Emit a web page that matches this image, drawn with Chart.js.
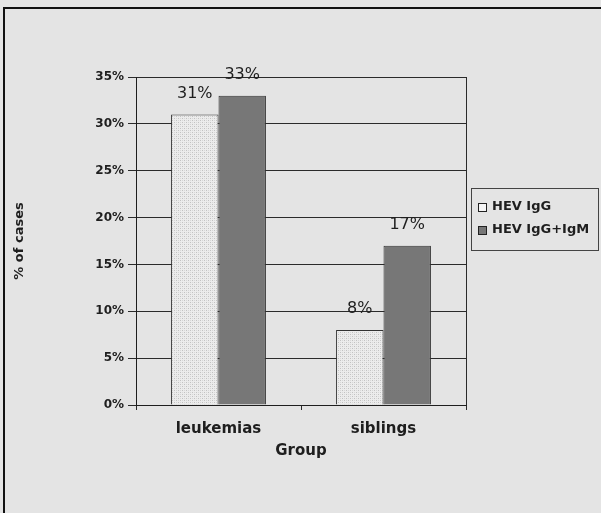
<!DOCTYPE html>
<html>
<head>
<meta charset="utf-8">
<script src="https://cdn.jsdelivr.net/npm/chart.js@4.4.1/dist/chart.umd.min.js"></script>
<style>
  html, body { margin: 0; padding: 0; background: #e4e4e4; }
  #wrap { width: 601px; height: 513px; position: relative; }
</style>
</head>
<body>
<div id="wrap"><canvas id="c" width="601" height="513"></canvas></div>
<script>
// Data
const groups = ['leukemias', 'siblings'];
const seriesNames = ['HEV IgG', 'HEV IgG+IgM'];
const igG = [31, 8];
const igGIgM = [33, 17];
const yTicks = [0, 5, 10, 15, 20, 25, 30, 35];
const yTitle = '% of cases';
const xTitle = 'Group';

const FONT = 'DejaVu Sans';
const INK = '#1e1e1e';

// Light dotted fill for the IgG bars
function makeDotPattern() {
  const t = document.createElement('canvas');
  t.width = 4; t.height = 4;
  const g = t.getContext('2d');
  g.fillStyle = '#ececec';
  g.fillRect(0, 0, 4, 4);
  g.fillStyle = '#c2c2c2';
  g.fillRect(0, 0, 1, 1);
  g.fillRect(2, 2, 1, 1);
  g.fillStyle = '#d8d8d8';
  g.fillRect(2, 0, 1, 1);
  g.fillRect(0, 2, 1, 1);
  return g.createPattern(t, 'repeat');
}
const dotFill = makeDotPattern();
const darkFill = '#777777';

// Outer frame of the figure
const framePlugin = {
  id: 'frame',
  beforeDraw(chart) {
    const ctx = chart.ctx;
    ctx.save();
    ctx.fillStyle = '#e4e4e4';
    ctx.fillRect(0, 0, chart.width, chart.height);
    ctx.strokeStyle = '#111';
    ctx.lineWidth = 2;
    ctx.strokeRect(4, 8, chart.width + 20, chart.height + 20);
    ctx.restore();
  },
  afterDatasetsDraw(chart) {
    // right edge of the plot box
    const a = chart.chartArea, ctx = chart.ctx;
    ctx.save();
    ctx.strokeStyle = '#2a2a2a';
    ctx.lineWidth = 1;
    ctx.beginPath();
    ctx.moveTo(Math.round(a.right) + 0.5, a.top);
    ctx.lineTo(Math.round(a.right) + 0.5, a.bottom);
    ctx.stroke();
    ctx.restore();
  }
};

// Percent labels above each bar
const valueLabels = {
  id: 'valueLabels',
  afterDatasetsDraw(chart) {
    const ctx = chart.ctx;
    ctx.save();
    ctx.font = '16px "' + FONT + '"';
    ctx.fillStyle = INK;
    ctx.textAlign = 'center';
    ctx.textBaseline = 'bottom';
    chart.data.datasets.forEach((ds, di) => {
      chart.getDatasetMeta(di).data.forEach((bar, i) => {
        ctx.fillText(ds.data[i] + '%', bar.x, bar.y - 13);
      });
    });
    ctx.restore();
  }
};

// Boxed legend to the right of the plot
const boxLegend = {
  id: 'boxLegend',
  afterDraw(chart) {
    const ctx = chart.ctx;
    const x0 = 471, y0 = 188, w = 127, h = 62;
    ctx.save();
    ctx.strokeStyle = '#444';
    ctx.lineWidth = 1;
    ctx.strokeRect(x0 + 0.5, y0 + 0.5, w, h);
    ctx.font = 'bold 13px "' + FONT + '"';
    ctx.textBaseline = 'middle';
    ctx.textAlign = 'left';
    chart.data.datasets.forEach((ds, i) => {
      const cy = y0 + 19 + i * 23;
      ctx.fillStyle = i === 0 ? '#f4f4f4' : ds.backgroundColor;
      ctx.fillRect(478, cy - 4, 8, 8);
      ctx.strokeStyle = '#222';
      ctx.strokeRect(478.5, cy - 3.5, 8, 8);
      ctx.fillStyle = INK;
      ctx.fillText(ds.label, 492, cy);
    });
    ctx.restore();
  }
};

new Chart(document.getElementById('c'), {
  type: 'bar',
  data: {
    labels: groups,
    datasets: [
      { label: seriesNames[0], data: igG, backgroundColor: dotFill,
        borderColor: '#333', borderWidth: 1 },
      { label: seriesNames[1], data: igGIgM, backgroundColor: darkFill,
        borderColor: '#333', borderWidth: 1 }
    ]
  },
  options: {
    responsive: false,
    animation: false,
    devicePixelRatio: 1,
    categoryPercentage: 0.575,
    barPercentage: 1.0,
    layout: { padding: { left: 0, top: 77, right: 135, bottom: 0 } },
    plugins: {
      legend: { display: false },
      tooltip: { enabled: false }
    },
    scales: {
      y: {
        min: yTicks[0],
        max: yTicks[yTicks.length - 1],
        afterFit(s) { s.width = 136; },
        afterBuildTicks(s) { s.ticks = yTicks.map(v => ({ value: v })); },
        ticks: {
          callback: v => v + '%',
          color: INK,
          padding: 4,
          font: { family: FONT, size: 12, weight: 'bold' }
        },
        grid: { color: '#2a2a2a', lineWidth: 1, tickLength: 8 },
        border: { color: '#1e1e1e', width: 1 },
        title: {
          display: true, text: yTitle, color: INK,
          padding: { top: 12, bottom: 0 },
          font: { family: FONT, size: 13, weight: 'bold' }
        }
      },
      x: {
        afterFit(s) { s.height = 108; },
        ticks: {
          color: INK,
          padding: 10,
          font: { family: FONT, size: 15, weight: 'bold' }
        },
        grid: { offset: true, drawOnChartArea: false, tickLength: 5, color: '#2a2a2a' },
        border: { color: '#1e1e1e', width: 1 },
        title: {
          display: true, text: xTitle, color: INK,
          padding: { top: 0, bottom: 53 },
          font: { family: FONT, size: 15, weight: 'bold' }
        }
      }
    }
  },
  plugins: [framePlugin, valueLabels, boxLegend]
});
</script>
</body>
</html>
